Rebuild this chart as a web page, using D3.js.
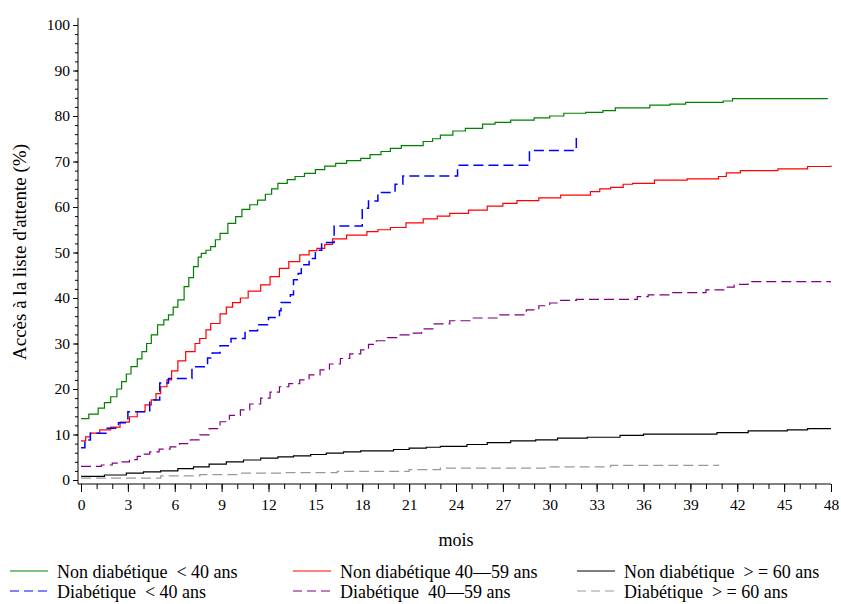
<!DOCTYPE html>
<html>
<head>
<meta charset="utf-8">
<script src="https://cdn.jsdelivr.net/npm/d3@7"></script>
<style>
  html, body { margin: 0; padding: 0; background: #fff; }
  svg { display: block; }
</style>
</head>
<body>
<svg id="chart" width="841" height="604"></svg>
<script>
// ---- Data (months, cumulative % access to waiting list) ----
const xTicks = [0,3,6,9,12,15,18,21,24,27,30,33,36,39,42,45,48];
const yTicks = [0,10,20,30,40,50,60,70,80,90,100];

const nonDiab40 = [[0,13.5],[0.5,14.5],[1.1,15.8],[1.5,17],[1.9,18.3],[2.3,20],[2.6,21.6],[2.9,23.3],[3.2,24.9],[3.6,26.6],[3.9,28.2],[4.2,30],[4.5,31.9],[4.9,34.1],[5.3,35.2],[5.6,36.3],[5.9,38],[6.2,39.6],[6.6,42.5],[6.9,44.5],[7.2,46.9],[7.5,49.0],[7.7,49.8],[8.0,50.5],[8.3,51.3],[8.6,52.8],[8.9,54.2],[9.4,56.4],[9.9,57.9],[10.3,59.5],[10.8,60.5],[11.3,61.5],[11.8,62.8],[12.2,64],[12.6,65.2],[13.2,66],[13.7,66.7],[14.3,67.4],[15.0,68.2],[15.6,69],[16.3,69.6],[17.0,70.2],[17.9,70.7],[18.5,71.5],[19.2,72.2],[19.8,72.9],[20.5,73.5],[21.9,74.4],[22.5,75.0],[23.0,75.8],[23.8,76.7],[24.6,77.3],[25.7,78.2],[26.5,78.6],[27.5,79.1],[29,79.6],[30.0,80.0],[30.9,80.6],[32.3,80.8],[33.4,81.2],[34.2,81.8],[36.4,82.4],[37.7,82.6],[38.7,83.0],[41.1,83.3],[41.7,83.8],[47.8,83.8]];

const nonDiab4059 = [[0,8.6],[0.3,9.5],[0.6,10.3],[1.2,11.0],[1.9,11.6],[2.5,12.7],[3.1,13.9],[3.6,15.0],[4.1,16.5],[4.5,17.6],[4.8,19.0],[5.1,20.5],[5.5,22],[5.8,24],[6.2,26.2],[6.7,28.2],[7.3,30.0],[7.6,31.1],[8.0,33],[8.3,34.4],[8.9,36.5],[9.3,38.0],[9.7,39.0],[10.2,40.0],[10.7,41.5],[11.5,42.9],[12.1,44.7],[12.7,46.5],[13.3,48.0],[14.0,49.5],[14.6,50.4],[15.1,50.9],[15.6,51.8],[16.1,53.0],[17.0,53.8],[18.3,54.6],[19.0,55.0],[19.8,55.5],[20.8,56.5],[21.9,57.4],[22.8,58.0],[23.6,58.6],[24.8,59.3],[26.0,60.2],[27.0,60.8],[27.9,61.4],[29.3,62.0],[30.7,62.6],[32.6,63.4],[33.2,64.0],[33.9,64.3],[34.7,65.0],[35.3,65.2],[36.7,65.9],[38.8,66.2],[40.8,66.7],[41.3,67.5],[42.2,68.0],[44.6,68.4],[46.5,68.9],[48.0,69.1]];

const nonDiab60 = [[0,0.8],[1.5,1.1],[2.9,1.5],[4.0,1.8],[5.1,2.0],[6.2,2.5],[7.2,2.9],[8.2,3.5],[9.3,4.0],[10.4,4.4],[11.5,4.8],[12.6,5.1],[13.6,5.3],[14.7,5.6],[15.7,5.9],[16.8,6.2],[17.9,6.4],[20.0,6.7],[21.0,7.0],[22.1,7.2],[23.0,7.4],[24.7,7.8],[26.0,8.2],[27.5,8.6],[29.1,8.8],[30.5,9.2],[32.4,9.4],[34.5,9.8],[36.0,10.1],[40.7,10.4],[42.7,10.8],[45.2,11.0],[46.5,11.3],[48.0,11.3]];

const diab40 = [[0,7.1],[0.25,8.8],[0.6,10.3],[1.6,11.4],[2.4,12.6],[3.0,15.0],[4.4,17.6],[5.04,21.3],[5.6,22.3],[7.1,24.9],[8.1,26.8],[8.4,27.9],[8.9,29.5],[9.6,31.1],[10.5,32.8],[11.3,34.1],[12.0,35.7],[12.7,37.2],[12.8,39.0],[13.4,40.7],[13.6,44.0],[13.9,45.4],[14.1,47.3],[14.6,48.7],[15.0,50.5],[15.4,52.2],[16.2,55.8],[18.0,59.7],[18.4,61.3],[19.0,63.2],[20.1,65.0],[20.6,66.8],[24.1,69.2],[28.7,72.4],[31.7,75.8]];

const diab4059 = [[0,3.0],[1.3,3.3],[2.0,3.7],[2.5,4.0],[3.1,4.5],[3.6,5.2],[4.0,5.7],[4.4,6.2],[5.0,6.8],[5.7,7.3],[6.3,8.0],[7.0,8.8],[7.6,9.9],[8.2,11.3],[8.9,12.8],[9.5,14.2],[10.2,15.4],[10.8,16.7],[11.5,18.0],[12.1,19.3],[12.7,20.5],[13.3,21.2],[14.0,22.0],[14.6,23.1],[15.3,24.2],[15.9,25.5],[16.6,26.7],[17.2,27.7],[17.9,28.6],[18.4,29.8],[18.9,30.6],[19.6,31.3],[20.3,31.9],[21.0,32.3],[21.8,33.2],[22.6,34.3],[23.6,35.0],[24.9,35.6],[26.8,36.3],[28.5,37.4],[29.3,38.3],[30.0,38.9],[30.7,39.5],[31.7,39.7],[35.6,40.3],[36.3,40.7],[37.7,41.2],[40.0,41.8],[41.3,42.4],[41.8,43.0],[42.7,43.6],[48.0,43.6]];

const diab60 = [[0,0.4],[5.1,0.9],[7.6,1.2],[10.2,1.5],[13.0,1.6],[16.4,1.9],[21.0,2.3],[23.0,2.6],[29.7,2.9],[33.9,3.2],[40.8,3.4]];

const seriesNames = ["Non diabétique  < 40 ans","Non diabétique 40\u201459 ans","Non diabétique  > = 60 ans","Diabétique  < 40 ans","Diabétique  40\u201459 ans","Diabétique  > = 60 ans"];
const seriesColors = ["#008000","#ff0000","#000000","#0000ff","#800080","#999999"];
const seriesDashed = [false,false,false,true,true,true];
const seriesData = [nonDiab40, nonDiab4059, nonDiab60, diab40, diab4059, diab60];

// ---- Layout ----
const FONT = "'Times New Roman', 'Liberation Serif', Tinos, 'DejaVu Serif', serif";
const svg = d3.select("#chart");
const x = d3.scaleLinear().domain([0,48]).range([81,831]);
const y = d3.scaleLinear().domain([0,100]).range([480,25]);
const axisX = 78, axisY = 484;
const FS = 15.5;

// Y axis
const gy = svg.append("g").attr("transform", `translate(${axisX},0)`);
gy.call(d3.axisLeft(y).tickValues(d3.range(0,101,2)).tickSize(3).tickFormat(""));
gy.select(".domain").remove();
const gy2 = svg.append("g").attr("transform", `translate(${axisX},0)`);
gy2.call(d3.axisLeft(y).tickValues(yTicks).tickSize(5).tickPadding(3));
gy2.select(".domain").remove();
gy2.attr("font-family", FONT).attr("font-size", FS);
gy2.selectAll("text").style("font-family", FONT).style("font-size", FS + "px");
svg.append("line").attr("x1", axisX).attr("x2", axisX).attr("y1", 18).attr("y2", axisY).attr("stroke", "#000");

// X axis
const gx = svg.append("g").attr("transform", `translate(0,${axisY})`);
gx.call(d3.axisBottom(x).tickValues(d3.range(0,49,1)).tickSize(5).tickFormat(""));
gx.select(".domain").remove();
const gx2 = svg.append("g").attr("transform", `translate(0,${axisY})`);
gx2.call(d3.axisBottom(x).tickValues(xTicks).tickSize(8).tickPadding(7));
gx2.select(".domain").remove();
gx2.attr("font-family", FONT).attr("font-size", FS);
gx2.selectAll("text").style("font-family", FONT).style("font-size", FS + "px");
svg.append("line").attr("x1", axisX).attr("x2", 831).attr("y1", axisY).attr("y2", axisY).attr("stroke", "#000");

// Axis titles
svg.append("text").attr("x", 456).attr("y", 546).attr("text-anchor", "middle")
  .style("font-family", FONT).style("font-size", "18px").text("mois");
svg.append("text").attr("transform", "translate(26,252) rotate(-90)")
  .attr("text-anchor", "middle").style("font-family", FONT).style("font-size", "19px")
  .text("Accès à la liste d'attente (%)");

// Lines
const line = d3.line().x(d => x(d[0])).y(d => y(d[1])).curve(d3.curveStepAfter);
const drawOrder = [5,2,4,1,3,0];
drawOrder.forEach(i => {
  svg.append("path").datum(seriesData[i])
    .attr("fill", "none")
    .attr("stroke", seriesColors[i])
    .attr("stroke-width", i === 3 ? 1.5 : 1.2)
    .attr("stroke-dasharray", seriesDashed[i] ? "10,5" : null)
    .attr("d", line);
});

// Legend
const legendPos = [[10,0],[293,0],[577,0],[10,1],[293,1],[577,1]];
seriesNames.forEach((name, i) => {
  const [lx, row] = legendPos[i];
  const ly = 575 + row * 20;
  svg.append("line").attr("x1", lx).attr("x2", lx + 38).attr("y1", ly - 4).attr("y2", ly - 4)
    .attr("stroke", seriesColors[i]).attr("stroke-width", 1.2)
    .attr("stroke-dasharray", seriesDashed[i] ? "9,5" : null);
  svg.append("text").attr("x", lx + 47).attr("y", ly + 3)
    .style("font-family", FONT).style("font-size", "18px").style("white-space", "pre")
    .attr("xml:space", "preserve").text(name);
});
</script>
</body>
</html>
